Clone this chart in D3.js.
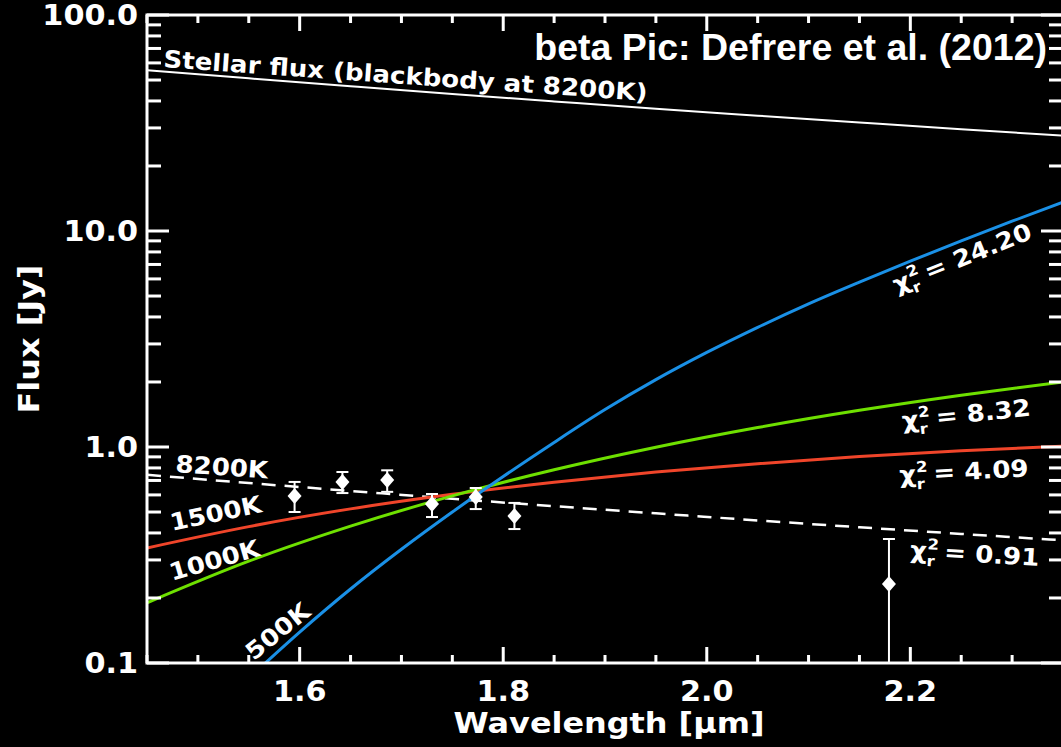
<!DOCTYPE html>
<html>
<head>
<meta charset="utf-8">
<script src="https://cdn.jsdelivr.net/npm/d3@7/dist/d3.min.js"></script>
<style>
  html, body { margin: 0; padding: 0; background: #000; }
  svg { display: block; }
  text { font-family: "DejaVu Sans", sans-serif; font-weight: bold; fill: #fff; }
</style>
</head>
<body>
<div id="visual"></div>
<script>
// values: wavelength in micron, flux in Jy
const obsWave = [1.595, 1.642, 1.686, 1.730, 1.773, 1.811, 2.179];
const obsFlux = [0.593, 0.689, 0.703, 0.545, 0.587, 0.479, 0.232];
const obsLow  = [0.500, 0.612, 0.620, 0.474, 0.516, 0.417, 0.05];
const obsHigh = [0.689, 0.766, 0.780, 0.606, 0.646, 0.551, 0.375];

const starWave = [1.45, 1.55, 1.65, 1.75, 1.85, 1.95, 2.05, 2.15, 2.25, 2.35];
const starFlux = [55.5, 50.9, 46.8, 43.1, 39.8, 36.8, 34.2, 31.8, 29.6, 27.65];

const wave8200 = [1.45, 1.55, 1.65, 1.75, 1.85, 1.95, 2.05, 2.15, 2.25, 2.35];
const flux8200 = [0.743, 0.681, 0.626, 0.576, 0.532, 0.493, 0.457, 0.425, 0.396, 0.370];

const wave500 = [1.55, 1.60, 1.65, 1.70, 1.75, 1.80, 1.85, 1.90, 1.95, 2.00, 2.05, 2.10, 2.15, 2.20, 2.25, 2.30, 2.35];
const flux500 = [0.085, 0.139, 0.220, 0.336, 0.50, 0.73, 1.05, 1.49, 2.05, 2.74, 3.58, 4.60, 5.80, 7.25, 9.0, 11.1, 13.6];

const wave1000 = [1.45, 1.55, 1.65, 1.75, 1.85, 1.95, 2.05, 2.15, 2.25, 2.35];
const flux1000 = [0.190, 0.296, 0.430, 0.594, 0.784, 0.997, 1.23, 1.478, 1.736, 2.0];

const wave1500 = [1.45, 1.55, 1.65, 1.75, 1.85, 1.95, 2.05, 2.15, 2.25, 2.35];
const flux1500 = [0.341, 0.428, 0.517, 0.604, 0.687, 0.766, 0.837, 0.903, 0.960, 1.01];

const yTickValues = [0.1, 1, 10, 100];
const yTickLabels = ["0.1", "1.0", "10.0", "100.0"];
const xTickValues = [1.6, 1.8, 2.0, 2.2];
const xTickLabels = ["1.6", "1.8", "2.0", "2.2"];

const chiValues = ["24.20", "8.32", "4.09", "0.91"];

const width = 1061, height = 747;
const plotL = 147, plotR = 1063, plotT = 15, plotB = 663;
const sx = 1.1; // the original lettering is a bit wide

const svg = d3.select("#visual").append("svg")
  .attr("width", width).attr("height", height)
  .style("background", "#000");

const x = d3.scaleLinear().domain([1.45, 2.35]).range([plotL, plotR]);
const y = d3.scaleLog().domain([0.1, 100]).range([plotB, plotT]);

svg.append("clipPath").attr("id", "plot")
  .append("rect").attr("x", plotL).attr("y", plotT)
  .attr("width", plotR - plotL).attr("height", plotB - plotT);

const plot = svg.append("g").attr("clip-path", "url(#plot)");

const line = d3.line()
  .x(d => x(d[0])).y(d => y(d[1]))
  .curve(d3.curveMonotoneX);

// model curves
plot.append("path").datum(d3.zip(starWave, starFlux))
  .attr("d", line).attr("fill", "none").attr("stroke", "#fff").attr("stroke-width", 2);

plot.append("path").datum(d3.zip(wave8200, flux8200))
  .attr("d", line).attr("fill", "none").attr("stroke", "#fff")
  .attr("stroke-width", 2.5).attr("stroke-dasharray", "14,9");

plot.append("path").datum(d3.zip(wave1500, flux1500))
  .attr("d", line).attr("fill", "none").attr("stroke", "#f0452a").attr("stroke-width", 3);

plot.append("path").datum(d3.zip(wave1000, flux1000))
  .attr("d", line).attr("fill", "none").attr("stroke", "#6ee000").attr("stroke-width", 3);

plot.append("path").datum(d3.zip(wave500, flux500))
  .attr("d", line).attr("fill", "none").attr("stroke", "#1a90e6").attr("stroke-width", 3);

// measurements with error bars
const obs = obsWave.map((w, i) => ({ w, f: obsFlux[i], lo: obsLow[i], hi: obsHigh[i] }));

const pts = plot.selectAll("g.obs").data(obs).enter().append("g").attr("class", "obs");

pts.append("line")
  .attr("x1", d => x(d.w)).attr("x2", d => x(d.w))
  .attr("y1", d => y(d.lo)).attr("y2", d => y(d.hi))
  .attr("stroke", "#fff").attr("stroke-width", 2);

pts.append("line")
  .attr("x1", d => x(d.w) - 6).attr("x2", d => x(d.w) + 6)
  .attr("y1", d => y(d.hi)).attr("y2", d => y(d.hi))
  .attr("stroke", "#fff").attr("stroke-width", 2);

pts.append("line")
  .attr("x1", d => x(d.w) - 6).attr("x2", d => x(d.w) + 6)
  .attr("y1", d => y(d.lo)).attr("y2", d => y(d.lo))
  .attr("stroke", "#fff").attr("stroke-width", 2);

pts.append("path")
  .attr("d", "M0,-8L7,0L0,8L-7,0Z")
  .attr("transform", d => `translate(${x(d.w)},${y(d.f)})`)
  .attr("fill", "#fff");

// frame and ticks
svg.append("rect")
  .attr("x", plotL).attr("y", plotT)
  .attr("width", plotR - plotL).attr("height", plotB - plotT)
  .attr("fill", "none").attr("stroke", "#fff").attr("stroke-width", 3);

const yTicks = y.ticks();
const isMajorY = v => Math.abs(Math.log10(v) - Math.round(Math.log10(v))) < 1e-6;
const xTicks = d3.ticks(1.45, 2.35, 18);
const isMajorX = v => Math.abs(v * 5 - Math.round(v * 5)) < 1e-6;

const ticks = svg.append("g").attr("stroke", "#fff").attr("stroke-width", 3);

ticks.selectAll("line.yl").data(yTicks).enter().append("line")
  .attr("x1", plotL).attr("x2", d => plotL + (isMajorY(d) ? 22 : 14))
  .attr("y1", d => y(d)).attr("y2", d => y(d));

ticks.selectAll("line.yr").data(yTicks).enter().append("line")
  .attr("x1", plotR).attr("x2", d => plotR - (isMajorY(d) ? 22 : 14))
  .attr("y1", d => y(d)).attr("y2", d => y(d));

ticks.selectAll("line.xb").data(xTicks).enter().append("line")
  .attr("x1", d => x(d)).attr("x2", d => x(d))
  .attr("y1", plotB).attr("y2", d => plotB - (isMajorX(d) ? 16 : 8));

ticks.selectAll("line.xt").data(xTicks).enter().append("line")
  .attr("x1", d => x(d)).attr("x2", d => x(d))
  .attr("y1", plotT).attr("y2", d => plotT + (isMajorX(d) ? 16 : 8));

// tick labels
svg.selectAll("text.ylab").data(yTickValues).enter().append("text")
  .attr("transform", d => `translate(${plotL - 9},${y(d)}) scale(${sx},1)`)
  .attr("dy", "0.36em").attr("text-anchor", "end").attr("font-size", 27.5)
  .text((d, i) => yTickLabels[i]);

svg.selectAll("text.xlab").data(xTickValues).enter().append("text")
  .attr("transform", d => `translate(${x(d)},${plotB + 38}) scale(${sx},1)`)
  .attr("text-anchor", "middle").attr("font-size", 27.5)
  .text((d, i) => xTickLabels[i]);

// axis titles
svg.append("text")
  .attr("transform", `translate(${(plotL + plotR) / 2 + 4},${height - 14}) scale(${sx},1)`)
  .attr("text-anchor", "middle").attr("font-size", 29)
  .text("Wavelength [µm]");

svg.append("text")
  .attr("transform", `translate(39,${(plotT + plotB) / 2}) rotate(-90) scale(${sx},1)`)
  .attr("text-anchor", "middle").attr("font-size", 29)
  .text("Flux [Jy]");

// title
svg.append("text")
  .attr("x", plotR - 16).attr("y", plotT + 45)
  .attr("text-anchor", "end")
  .style("font-family", "'Liberation Sans', Arial, sans-serif")
  .attr("font-size", 37.5)
  .text("beta Pic: Defrere et al. (2012)");

// curve labels, anchored in data space
function label(txt, w, f, angle, size) {
  return svg.append("text")
    .attr("transform", `translate(${x(w)},${y(f)}) rotate(${angle}) scale(${sx},1)`)
    .attr("font-size", size)
    .text(txt);
}

label("Stellar flux (blackbody at 8200K)", 1.4657, 57.4, 4, 23.7);
label("8200K", 1.4775, 0.766, 4, 23.7);
label("1500K", 1.4746, 0.408, -12, 23.7);
label("1000K", 1.4746, 0.24, -16, 23.7);
label("500K", 1.555, 0.102, -39, 23.7);

function chiLabel(value, w, f, angle) {
  const size = 23.7, small = 15;
  const t = label("χ", w, f, angle, size);
  t.append("tspan").attr("font-size", small).attr("dy", -10).text("2");
  t.append("tspan").attr("font-size", small).attr("dx", -small * 0.696).attr("dy", 17).text("r");
  t.append("tspan").attr("dy", -7).text(" = " + value);
}

chiLabel(chiValues[0], 2.1867, 5.16, -22);
chiLabel(chiValues[1], 2.1926, 1.21, -6);
chiLabel(chiValues[2], 2.1897, 0.681, -3);
chiLabel(chiValues[3], 2.1995, 0.306, 3.5);
</script>
</body>
</html>
